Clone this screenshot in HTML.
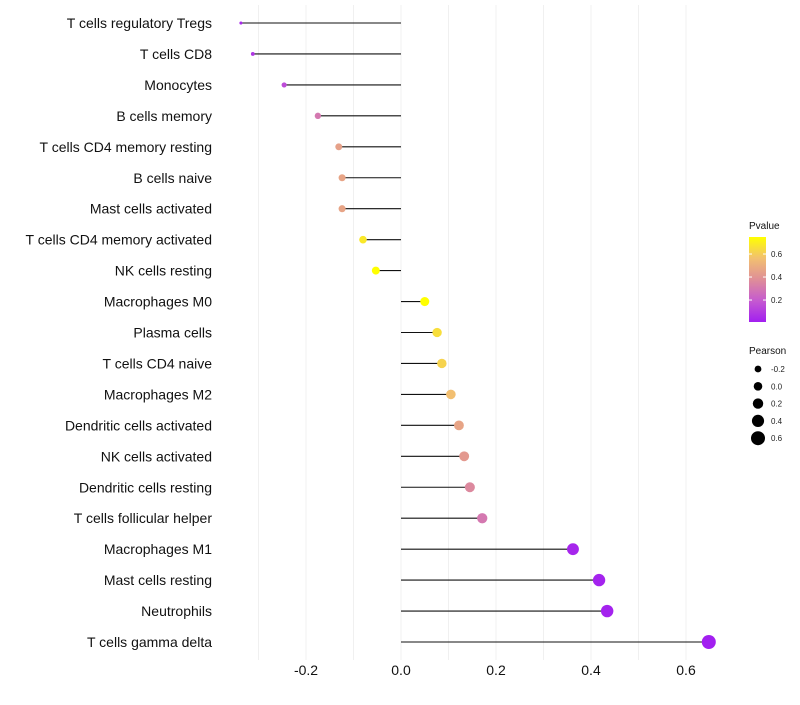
<!DOCTYPE html>
<html><head><meta charset="utf-8"><style>
body{margin:0;background:#fff;font-family:"Liberation Sans",sans-serif}
</style></head><body>
<svg id="chart" width="800" height="700" xmlns="http://www.w3.org/2000/svg" font-family="Liberation Sans, sans-serif">
<defs><linearGradient id="pg" x1="0" y1="1" x2="0" y2="0">
<stop offset="0" stop-color="#a21ff0"/><stop offset="0.25" stop-color="#c55ad0"/><stop offset="0.5" stop-color="#df8e98"/><stop offset="0.75" stop-color="#f2c070"/><stop offset="1" stop-color="#ffff00"/></linearGradient></defs>
<g id="grid"></g>
<g id="marks"></g>
<g id="labels"></g>
<g id="xticks"></g>
<g>
<text x="749" y="229" font-size="10" fill="#111">Pvalue</text>
<rect x="749" y="237" width="17" height="85" fill="url(#pg)"/>
<g id="pleg"></g>
</g>
<g id="sleg">
<text x="749" y="354" font-size="10" fill="#111">Pearson</text>
</g>
</svg>
<script>
const cells=["T cells regulatory  Tregs ","T cells CD8","Monocytes","B cells memory","T cells CD4 memory resting","B cells naive","Mast cells activated","T cells CD4 memory activated","NK cells resting","Macrophages M0","Plasma cells","T cells CD4 naive","Macrophages M2","Dendritic cells activated","NK cells activated","Dendritic cells resting","T cells follicular helper","Macrophages M1","Mast cells resting","Neutrophils","T cells gamma delta"];
const pearson=[-0.337,-0.312,-0.246,-0.175,-0.131,-0.124,-0.124,-0.080,-0.053,0.050,0.076,0.086,0.105,0.122,0.133,0.145,0.171,0.362,0.417,0.434,0.648];
const pvalue=[0.04,0.08,0.15,0.30,0.45,0.46,0.46,0.68,0.76,0.76,0.65,0.62,0.56,0.46,0.42,0.36,0.30,0.03,0.02,0.02,0.005];
const xTicks=[-0.2,0,0.2,0.4,0.6];
const xTickLabels=["-0.2","0.0","0.2","0.4","0.6"];
const pTicks=[0.2,0.4,0.6];
const sizeTicks=[-0.2,0.0,0.2,0.4,0.6];
const NS="http://www.w3.org/2000/svg";
const X=v=>401+v*475;
const Y=i=>23+i*30.95;
const R=v=>Math.sqrt(Math.max(1,2.25+47.2*(v+0.34)));
const PY=p=>322-(p-0.009)/(0.748-0.009)*85;
const stops=[[0,[162,31,240]],[0.25,[197,90,208]],[0.5,[223,142,152]],[0.75,[242,192,112]],[1,[255,255,0]]];
function col(p){let t=Math.min(1,Math.max(0,(p-0.009)/(0.748-0.009)));for(let k=1;k<stops.length;k++){if(t<=stops[k][0]){const a=stops[k-1],b=stops[k],f=(t-a[0])/(b[0]-a[0]);return "rgb("+a[1].map((c,j)=>Math.round(c+(b[1][j]-c)*f)).join(",")+")";}}return "rgb(255,255,0)";}
function mk(tag,at,par){const e=document.createElementNS(NS,tag);for(const k in at)e.setAttribute(k,at[k]);document.getElementById(par).appendChild(e);return e;}
for(let v=-0.3;v<=0.65;v+=0.1){const l=mk("line",{x1:X(v),x2:X(v),y1:5,y2:660,stroke:"#f0f0f0","stroke-width":1},"grid");

}
cells.forEach((c,i)=>{
const s=mk("line",{x1:X(0),x2:X(pearson[i]),y1:Y(i),y2:Y(i),stroke:"#111","stroke-width":1.1},"marks");


const d=mk("circle",{cx:X(pearson[i]),cy:Y(i),r:R(pearson[i]),fill:col(pvalue[i])},"marks");


const t=mk("text",{x:212,y:Y(i)+5,"text-anchor":"end","font-size":14,fill:"#111","xml:space":"preserve"},"labels");t.textContent=c;


});
xTicks.forEach((v,i)=>{const t=mk("text",{x:X(v),y:675,"text-anchor":"middle","font-size":14,fill:"#111"},"xticks");t.textContent=xTickLabels[i];

});
pTicks.forEach(p=>{mk("line",{x1:749,x2:752,y1:PY(p),y2:PY(p),stroke:"#fff"},"pleg");mk("line",{x1:763,x2:766,y1:PY(p),y2:PY(p),stroke:"#fff"},"pleg");
const t=mk("text",{x:771,y:PY(p)+3,"font-size":8,fill:"#222"},"pleg");t.textContent=p.toFixed(1);

});
sizeTicks.forEach((v,i)=>{const y=369+i*17.3;
const c=mk("circle",{cx:758,cy:y,r:4.3+v*4.5,fill:"#000"},"sleg");


const t=mk("text",{x:771,y:y+3,"font-size":8,fill:"#222"},"sleg");t.textContent=v.toFixed(1);

});
</script>
</body></html>
